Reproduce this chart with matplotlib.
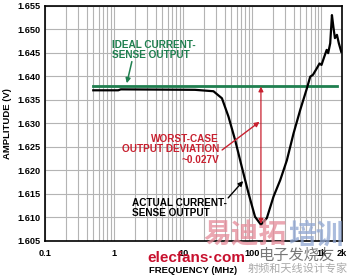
import matplotlib
import matplotlib.pyplot as plt
from matplotlib.ticker import FixedLocator, NullFormatter

matplotlib.use("Agg")

# 数据
freq_actual = [0.5, 1.15, 1.25, 14.9, 27.5, 36.5, 45.4, 56.7, 70.8, 88.5, 110, 134, 163,
               204, 255, 318, 397, 496, 620, 693, 760, 865, 945, 1010, 1105, 1200, 1260,
               1350, 1430, 1500, 1580, 1690, 1800, 1950]
amp_actual = [1.6370, 1.6370, 1.6372, 1.6371, 1.6368, 1.6353, 1.6314, 1.6264, 1.6207,
              1.6151, 1.6101, 1.6084, 1.6098, 1.6144, 1.6179, 1.6221, 1.6278, 1.6328,
              1.6374, 1.6399, 1.6403, 1.6417, 1.6427, 1.6424, 1.6441, 1.6456, 1.6449,
              1.6470, 1.6530, 1.6505, 1.6481, 1.6488, 1.6470, 1.6452]
freq_ideal = [0.5, 1700]
amp_ideal = [1.638, 1.638]
worst_freq = 134
worst_top = 1.6378
worst_bottom = 1.6086

xticks = [0.1, 1, 10, 100, 1000, 2000]
xtick_labels = ["0.1", "1", "10", "100", "1k", "2k"]
yticks = [1.605, 1.610, 1.615, 1.620, 1.625, 1.630, 1.635, 1.640, 1.645, 1.650, 1.655]

GREEN = "#1f7f4f"
RED = "#c8202f"
W, H = 350, 277

plt.rcParams["font.family"] = ["Liberation Sans", "Noto Sans CJK SC", "DejaVu Sans"]
plt.rcParams["font.weight"] = "bold"

fig = plt.figure(figsize=(3.5, 2.77), dpi=100)
ax = fig.add_axes([45 / W, 1 - 240.7 / H, 297 / W, 235 / H])

ax.set_xscale("log")
ax.set_xlim(0.1, 2000)
ax.set_ylim(1.605, 1.655)

minor = [m * 10.0 ** e for e in range(-1, 4) for m in range(1, 10) if 0.1 < m * 10.0 ** e < 2000]
ax.xaxis.set_major_locator(FixedLocator(xticks))
ax.xaxis.set_minor_locator(FixedLocator(minor))
ax.xaxis.set_minor_formatter(NullFormatter())
ax.set_xticklabels(xtick_labels)
ax.set_yticks(yticks)
ax.set_yticklabels([f"{v:.3f}" for v in yticks])
ax.tick_params(axis="both", which="both", length=0, labelsize=6.6)
ax.tick_params(axis="x", pad=6)
ax.tick_params(axis="y", pad=3)
for lbl in ax.get_xticklabels() + ax.get_yticklabels():
    lbl.set_fontweight("bold")

ax.grid(True, which="both", axis="x", color="#b4b4b4", linewidth=0.8)
ax.grid(True, which="major", axis="y", color="#b4b4b4", linewidth=0.8)
for s in ax.spines.values():
    s.set_linewidth(1.2)

ax.plot(freq_ideal, amp_ideal, color=GREEN, linewidth=2.0)
ax.plot(freq_actual, amp_actual, color="black", linewidth=1.6)

# 最坏偏差箭头
ax.annotate("", xy=(worst_freq, worst_top), xytext=(worst_freq, worst_bottom),
            arrowprops=dict(arrowstyle="<|-|>", color=RED, lw=0.9, mutation_scale=7,
                            shrinkA=0, shrinkB=0))

fig.text(112 / W, 1 - 50 / H, "IDEAL CURRENT-\nSENSE OUTPUT", color=GREEN,
         fontsize=7.2, fontweight="bold", va="center", ha="left", linespacing=1.05)
ax.annotate("", xy=(1.53, 1.6385), xytext=(1.81, 1.6431),
            arrowprops=dict(arrowstyle="-|>", color=GREEN, lw=1.1, mutation_scale=7,
                            shrinkA=0, shrinkB=0))

fig.text(219 / W, 1 - 149.5 / H, "WORST-CASE\nOUTPUT DEVIATION\n~0.027V", color=RED,
         fontsize=7.2, fontweight="bold", va="center", ha="right", linespacing=1.05)
ax.annotate("", xy=(128, 1.6303), xytext=(36.7, 1.6243),
            arrowprops=dict(arrowstyle="-|>", color=RED, lw=1.0, mutation_scale=7,
                            shrinkA=0, shrinkB=0))

fig.text(132 / W, 1 - 208 / H, "ACTUAL CURRENT-\nSENSE OUTPUT", color="black",
         fontsize=7.2, fontweight="bold", va="center", ha="left", linespacing=1.05)
ax.annotate("", xy=(74.1, 1.6177), xytext=(44.9, 1.6141),
            arrowprops=dict(arrowstyle="-|>", color="black", lw=1.0, mutation_scale=7,
                            shrinkA=0, shrinkB=0))

ax.set_ylabel("AMPLITUDE (V)", fontsize=6.8, fontweight="bold", labelpad=4)
ax.set_xlabel("FREQUENCY (MHz)", fontsize=6.8, fontweight="bold", labelpad=6)

# 水印
fig.text(245 / W, 1 - 236.5 / H, "易迪拓", color="#e58a98", alpha=0.75,
         fontsize=20, fontweight="bold", ha="center", va="center")
fig.text(316 / W, 1 - 236.5 / H, "培训", color="#8fa6d2", alpha=0.75,
         fontsize=20, fontweight="bold", ha="center", va="center")
fig.text(196 / W, 1 - 258 / H, "elecfans·com", color="#c8102e",
         fontsize=11, fontweight="bold", ha="center", va="center")
fig.text(296 / W, 1 - 256 / H, "电子发烧友", color="#555555", alpha=0.8,
         fontsize=11, fontweight="normal", ha="center", va="center")
fig.text(298 / W, 1 - 269 / H, "射频和天线设计专家", color="#aaaaaa",
         fontsize=8, fontweight="normal", ha="center", va="center")

fig.savefig("out.png", dpi=100)
